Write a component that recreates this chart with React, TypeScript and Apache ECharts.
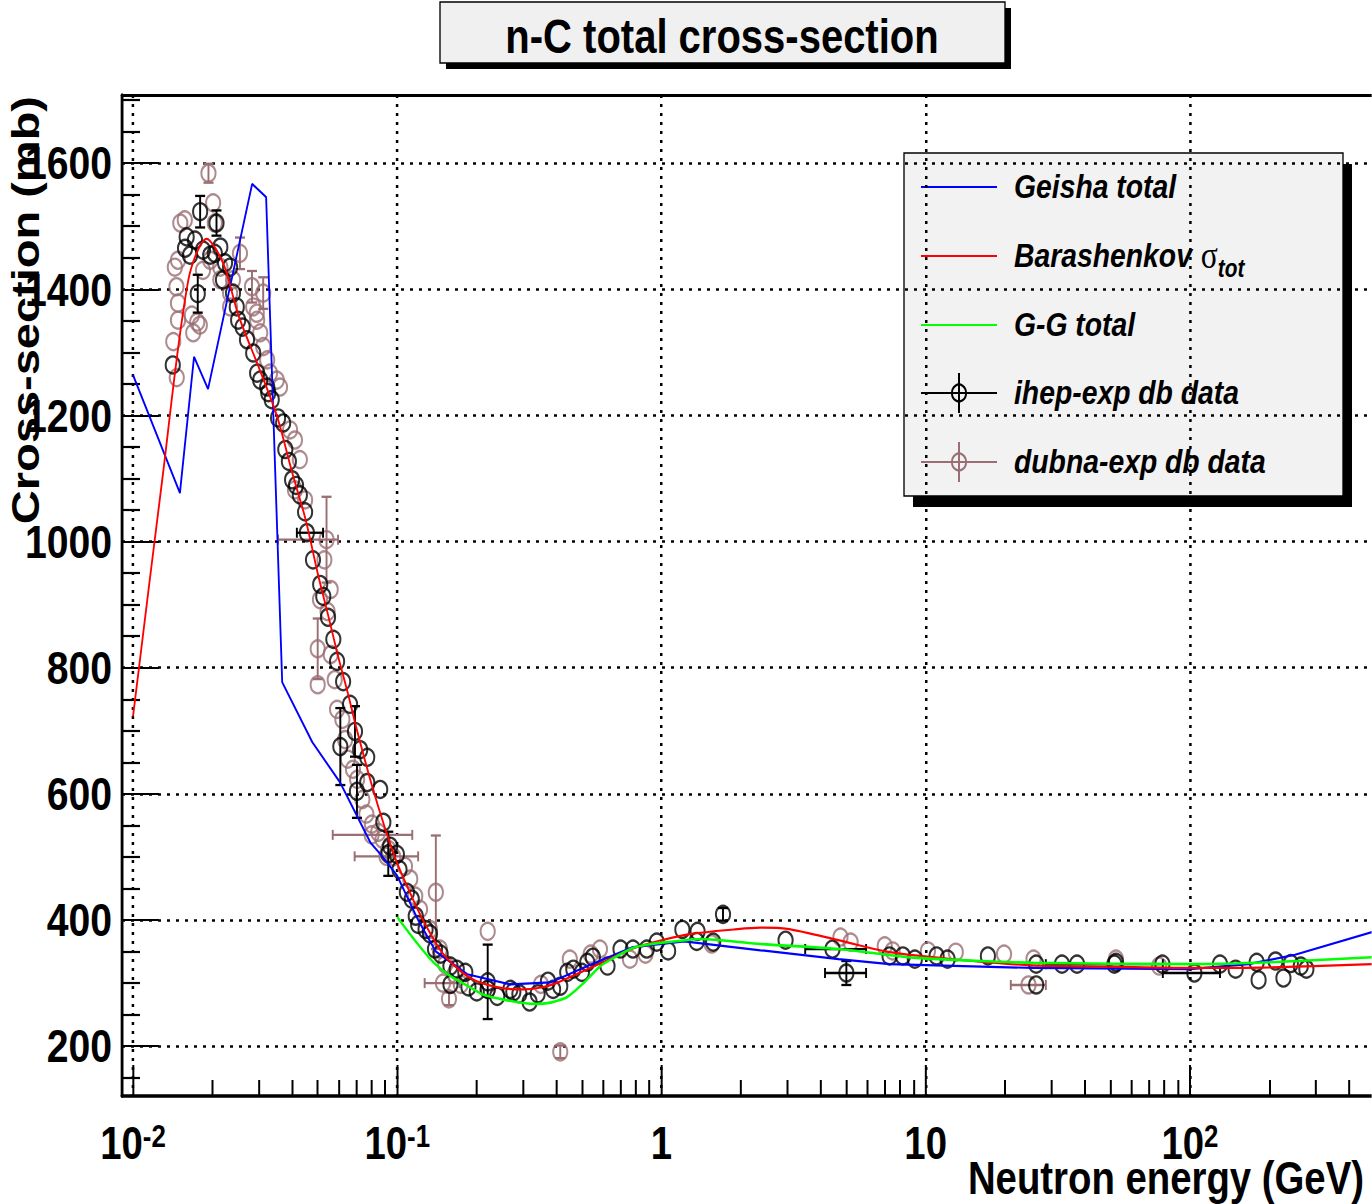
import React, { useEffect, useRef } from 'react';
import * as echarts from 'echarts';

const FONT = "'Liberation Sans', Arial, sans-serif";

// The reference is horizontally compressed relative to its font heights; draw wider and squeeze.
const K = 1.2;
const W = 1372;
const H = 1204;

const X_MIN = 0.009085;
const X_MAX = 489;
const Y_MIN = 121;
const Y_MAX = 1708;

const xMajorTicks = [0.01, 0.1, 1, 10, 100];
const xMinorMantissas = [2, 3, 4, 5, 6, 7, 8, 9];
const yMajorTicks = [200, 400, 600, 800, 1000, 1200, 1400, 1600];
const yMinorTicks = [150, 250, 300, 350, 450, 500, 550, 650, 700, 750, 850, 900, 950, 1050, 1100, 1150, 1250, 1300, 1350, 1450, 1500, 1550, 1650, 1700];

// Geisha total (blue)
const geishaEnergy = [0.01, 0.01505, 0.01702, 0.01923, 0.02824, 0.0319, 0.0367, 0.0477, 0.0608, 0.0791, 0.0877, 0.1, 0.12, 0.14, 0.184, 0.268, 0.38, 0.525, 0.78, 1.22, 2.37, 4.68, 7.3, 25.6, 100, 167, 250, 489];
const geishaSigma = [1264, 1077, 1293, 1242, 1567, 1546, 777, 682, 618, 523, 501, 470, 400, 350, 314, 298, 301, 327, 357, 366, 352, 338, 330, 324, 322, 330, 345, 381];

// Barashenkov sigma_tot (red)
const barEnergy = [0.01, 0.0129, 0.0162, 0.019, 0.022, 0.025, 0.03, 0.035, 0.04, 0.045, 0.05, 0.055, 0.06, 0.065, 0.07, 0.08, 0.09, 0.1, 0.11, 0.12, 0.135, 0.15, 0.175, 0.2, 0.25, 0.3, 0.35, 0.4, 0.5, 0.6, 0.78, 1.0, 1.3, 1.875, 2.37, 3, 4.68, 7.3, 15, 25.6, 50, 100, 200, 489];
const barSigma = [723, 1098, 1415, 1480, 1440, 1360, 1275, 1200, 1110, 1035, 950, 880, 815, 760, 705, 615, 545, 490, 450, 415, 375, 345, 318, 303, 292, 290, 293, 300, 318, 333, 355, 368, 378, 385, 388, 386, 368, 349, 335, 328, 326, 324, 325, 330];

// G-G total (green)
const ggEnergy = [0.1, 0.1023, 0.118, 0.137, 0.159, 0.184, 0.211, 0.245, 0.283, 0.327, 0.38, 0.44, 0.51, 0.587, 0.68, 0.783, 0.916, 1.05, 1.41, 2.37, 4.68, 9.25, 25.6, 100, 200, 489];
const ggSigma = [405, 399, 365, 333, 311, 296, 282, 275, 270, 267, 269, 278, 301, 327, 343, 356, 362, 365, 370, 362, 354, 340, 332, 330, 333, 341];

// ihep-exp db data (black)
const ihepEnergy = [0.01414, 0.01574, 0.01596, 0.01644, 0.01716, 0.01758, 0.01795, 0.0184, 0.0196, 0.0204, 0.0207, 0.0214, 0.0219, 0.0223, 0.0233, 0.0239, 0.0247, 0.025, 0.026, 0.027, 0.0285, 0.0295, 0.0303, 0.0322, 0.0325, 0.0335, 0.0354, 0.037, 0.0377, 0.0389, 0.04, 0.0414, 0.0428, 0.0448, 0.0455, 0.048, 0.0511, 0.0525, 0.0547, 0.0573, 0.0592, 0.0624, 0.0663, 0.0692, 0.0609, 0.0724, 0.077, 0.0704, 0.077, 0.0862, 0.0886, 0.094, 0.0925, 0.0997, 0.102, 0.1088, 0.1135, 0.1175, 0.12, 0.128, 0.133, 0.139, 0.146, 0.159, 0.159, 0.168, 0.181, 0.186, 0.2, 0.22, 0.22, 0.239, 0.268, 0.275, 0.29, 0.317, 0.34, 0.372, 0.389, 0.414, 0.44, 0.464, 0.5, 0.524, 0.55, 0.625, 0.7, 0.78, 0.88, 0.96, 1.06, 1.2, 1.37, 1.36, 1.57, 1.71, 2.95, 4.44, 5.01, 7.3, 8.2, 9.1, 11.0, 12.1, 17.2, 26.2, 26.2, 32.8, 37.4, 51.8, 52.5, 78.7, 104, 130, 149, 179, 182, 211, 226, 241, 263, 276];
const ihepSigma = [1280, 1465, 1483, 1454, 1478, 1393, 1523, 1462, 1454, 1457, 1505, 1467, 1415, 1442, 1435, 1394, 1372, 1351, 1340, 1320, 1299, 1267, 1256, 1245, 1236, 1225, 1196, 1188, 1146, 1127, 1098, 1089, 1074, 1047, 1014, 971, 932, 913, 880, 845, 810, 778, 742, 699, 675, 670, 658, 604, 618, 607, 555, 517, 505, 504, 480, 444, 433, 406, 393, 385, 378, 354, 346, 327, 298, 322, 317, 294, 286, 302, 290, 279, 290, 286, 283, 270, 283, 303, 290, 295, 317, 322, 317, 333, 341, 327, 354, 354, 354, 365, 351, 385, 382, 366, 365, 409, 368, 354, 316, 343, 343, 338, 343, 338, 343, 330, 297, 330, 330, 330, 333, 330, 316, 330, 322, 333, 305, 335, 308, 331, 327, 322];
// [energy, sigma, sigma error, energy low, energy high]
const ihepErrors = [
  [0.01758, 1393, 30, 0, 0],
  [0.01795, 1523, 25, 0, 0],
  [0.0207, 1505, 20, 0, 0],
  [0.0455, 1014, 0, 0.0417, 0.0524],
  [0.0692, 699, 40, 0, 0],
  [0.0609, 675, 61, 0, 0],
  [0.0704, 604, 42, 0, 0],
  [0.0925, 505, 35, 0, 0],
  [0.22, 302, 59, 0, 0],
  [1.71, 409, 10, 0, 0],
  [4.44, 354, 0, 3.5, 5.95],
  [5.01, 316, 19, 4.16, 5.95],
  [51.8, 330, 0, 28.5, 79],
  [104, 316, 0, 79, 130],
];

// dubna-exp db data (brown)
const dubnaEnergy = [0.0142, 0.0144, 0.0146, 0.01464, 0.0148, 0.0148, 0.0148, 0.0151, 0.0157, 0.0167, 0.0169, 0.0175, 0.0179, 0.0184, 0.0193, 0.0196, 0.0201, 0.0204, 0.0214, 0.0214, 0.0233, 0.0233, 0.0239, 0.0254, 0.0282, 0.0285, 0.0294, 0.0295, 0.0303, 0.0311, 0.0311, 0.0322, 0.033, 0.035, 0.036, 0.0393, 0.041, 0.041, 0.0428, 0.0448, 0.054, 0.053, 0.051, 0.0545, 0.056, 0.05, 0.05, 0.056, 0.058, 0.0592, 0.062, 0.0635, 0.065, 0.068, 0.0705, 0.0738, 0.0764, 0.08, 0.0802, 0.0847, 0.088, 0.091, 0.0925, 0.0966, 0.107, 0.112, 0.117, 0.122, 0.133, 0.14, 0.145, 0.149, 0.152, 0.157, 0.165, 0.174, 0.22, 0.22, 0.35, 0.414, 0.45, 0.54, 0.585, 0.76, 0.87, 1.55, 4.76, 5.2, 7.0, 7.5, 10.2, 13.0, 19.8, 24.5, 25.6, 52.5, 76.5];
const dubnaSigma = [1317, 1435, 1404, 1260, 1351, 1378, 1446, 1505, 1510, 1359, 1331, 1348, 1343, 1430, 1584, 1446, 1537, 1505, 1415, 1435, 1372, 1394, 1415, 1457, 1404, 1372, 1362, 1351, 1331, 1394, 1309, 1288, 1267, 1256, 1245, 1177, 1161, 1082, 1130, 1066, 1003, 971, 908, 889, 924, 830, 773, 821, 781, 734, 718, 686, 655, 639, 623, 591, 568, 535, 552, 539, 528, 501, 512, 500, 485, 465, 438, 417, 385, 444, 354, 300, 330, 275, 314, 298, 382, 290, 298, 191, 338, 346, 354, 338, 346, 362, 373, 365, 359, 351, 351, 349, 346, 297, 338, 338, 327];
const dubnaErrors = [
  [0.0193, 1584, 15, 0, 0],
  [0.0254, 1457, 25, 0, 0],
  [0.0282, 1404, 25, 0, 0],
  [0.0311, 1394, 25, 0, 0],
  [0.054, 1003, 68, 0.0354, 0.0597],
  [0.05, 830, 48, 0, 0],
  [0.08, 535, 0, 0.057, 0.114],
  [0.091, 501, 0, 0.069, 0.12],
  [0.14, 444, 90, 0, 0],
  [0.149, 300, 0, 0.127, 0.172],
  [0.157, 275, 10, 0, 0],
  [0.414, 191, 10, 0, 0],
  [24.5, 297, 0, 21, 28.5],
];

const BLUE = '#0000ff';
const RED = '#ff0000';
const GREEN = '#00ff00';
const BLACK = '#000000';
const BROWN = '#9a6e73';

const zip = (a: number[], b: number[]) => a.map((v, i) => [v, b[i]]);

const xMinorTicks: number[] = [];
xMajorTicks.forEach((d) => {
  xMinorMantissas.forEach((m) => {
    const v = Number((m * d).toPrecision(6));
    if (v < X_MAX) xMinorTicks.push(v);
  });
});

function errorRenderer(color: string) {
  return (params: any, api: any) => {
    const e = api.value(0);
    const s = api.value(1);
    const ds = api.value(2);
    const lo = api.value(3);
    const hi = api.value(4);
    const style = { stroke: color, lineWidth: 2.3, fill: 'none' };
    const capX = 5 * K;
    const capY = 5;
    const children: any[] = [];
    if (ds > 0) {
      const t = api.coord([e, s + ds]);
      const b = api.coord([e, s - ds]);
      children.push({ type: 'line', shape: { x1: t[0], y1: t[1], x2: b[0], y2: b[1] }, style });
      children.push({ type: 'line', shape: { x1: t[0] - capX, y1: t[1], x2: t[0] + capX, y2: t[1] }, style });
      children.push({ type: 'line', shape: { x1: b[0] - capX, y1: b[1], x2: b[0] + capX, y2: b[1] }, style });
    }
    if (lo > 0 && hi > 0) {
      const l = api.coord([lo, s]);
      const r = api.coord([hi, s]);
      children.push({ type: 'line', shape: { x1: l[0], y1: l[1], x2: r[0], y2: r[1] }, style });
      children.push({ type: 'line', shape: { x1: l[0], y1: l[1] - capY, x2: l[0], y2: l[1] + capY }, style });
      children.push({ type: 'line', shape: { x1: r[0], y1: r[1] - capY, x2: r[0], y2: r[1] + capY }, style });
    }
    return { type: 'group', children };
  };
}

function xLabel(v: number) {
  const p = Math.round(Math.log10(v));
  if (p === 0) return '{b|1}';
  if (p === 1) return '{b|10}';
  return '{b|10}{s|' + p + '}';
}

const legendItems = [
  { name: 'Geisha total', color: BLUE, kind: 'line', sub: false },
  { name: 'Barashenkov', color: RED, kind: 'line', sub: true },
  { name: 'G-G total', color: GREEN, kind: 'line', sub: false },
  { name: 'ihep-exp db data', color: BLACK, kind: 'marker', sub: false },
  { name: 'dubna-exp db data', color: BROWN, kind: 'marker', sub: false },
];

function buildLegend() {
  const lx = 904 * K, ly = 153, lw = 439 * K, lh = 343;
  const rows = [187, 256, 325, 393, 462];
  const children: any[] = [
    { type: 'rect', shape: { x: lx + 9 * K, y: ly + 11, width: lw, height: lh }, style: { fill: '#000' } },
    { type: 'rect', shape: { x: lx, y: ly, width: lw, height: lh }, style: { fill: '#f2f2f2', stroke: '#000', lineWidth: 1.6 } },
  ];
  legendItems.forEach((it, i) => {
    const y = rows[i];
    children.push({ type: 'line', shape: { x1: 921 * K, y1: y, x2: 997 * K, y2: y }, style: { stroke: it.color, lineWidth: 2 } });
    if (it.kind === 'marker') {
      children.push({ type: 'line', shape: { x1: 959 * K, y1: y - 20, x2: 959 * K, y2: y + 20 }, style: { stroke: it.color, lineWidth: 2.4 } });
      children.push({ type: 'circle', shape: { cx: 959 * K, cy: y, r: 8.5 }, style: { fill: 'none', stroke: it.color, lineWidth: 2.3 } });
    }
    const text = it.sub ? '{n|' + it.name + '}{sp| }{g|σ}{t|tot}' : '{n|' + it.name + '}';
    children.push({
      type: 'text',
      x: 1014 * K,
      y,
      style: {
        text,
        verticalAlign: 'middle',
        align: 'left',
        rich: {
          n: { fontFamily: FONT, fontSize: 34, fontWeight: 'bold', fontStyle: 'italic', fill: '#000', lineHeight: 50 },
          sp: { fontFamily: FONT, fontSize: 38, fill: '#000', lineHeight: 50 },
          g: { fontFamily: "'Liberation Serif', serif", fontSize: 38, fill: '#000', lineHeight: 50 },
          t: { fontFamily: FONT, fontSize: 25, fontWeight: 'bold', fontStyle: 'italic', fill: '#000', lineHeight: 20, verticalAlign: 'bottom' },
        },
      },
    });
  });
  return { type: 'group', children };
}

function buildTitle() {
  return {
    type: 'group',
    children: [
      { type: 'rect', shape: { x: 446 * K, y: 8, width: 565 * K, height: 61 }, style: { fill: '#000' } },
      { type: 'rect', shape: { x: 440 * K, y: 2, width: 565 * K, height: 61 }, style: { fill: '#f0f0f0', stroke: '#000', lineWidth: 1.6 } },
      {
        type: 'text', x: 722 * K, y: 36,
        style: { text: 'n-C total cross-section', align: 'center', verticalAlign: 'middle', fontFamily: FONT, fontSize: 48, fontWeight: 'bold', fill: '#000' },
      },
    ],
  };
}

function buildYTitle() {
  return {
    type: 'text', x: 25 * K, y: 96, rotation: Math.PI / 2,
    style: { text: 'Cross-section (mb)', align: 'right', verticalAlign: 'middle', fontFamily: FONT, fontSize: 47, fontWeight: 'bold', fill: '#000' },
  };
}

function buildXTitle() {
  return {
    type: 'text', x: 1364 * K, y: 1178,
    style: { text: 'Neutron energy (GeV)', align: 'right', verticalAlign: 'middle', fontFamily: FONT, fontSize: 46, fontWeight: 'bold', fill: '#000', lineHeight: 34 },
  };
}

export default function App() {
  const ref = useRef<HTMLDivElement>(null);
  useEffect(() => {
    if (!ref.current) return;
    const chart = echarts.init(ref.current, undefined, { renderer: 'svg', width: W * K, height: H });
    const option: any = {
      animation: false,
      backgroundColor: '#fff',
      grid: { left: 122 * K, top: 95, right: 0, bottom: 108, containLabel: false, outerBoundsMode: 'none' },
      xAxis: [
        {
          type: 'log', logBase: 10, min: X_MIN, max: X_MAX, position: 'bottom',
          axisLine: { show: true, lineStyle: { color: '#000', width: 3.5 } },
          axisTick: { show: true, inside: true, length: 31, customValues: xMajorTicks, lineStyle: { color: '#000', width: 2.4 } },
          axisLabel: {
            customValues: xMajorTicks, formatter: xLabel, margin: 25, color: '#000',
            rich: {
              b: { fontFamily: FONT, fontSize: 46, fontWeight: 'bold', color: '#000', lineHeight: 44 },
              s: { fontFamily: FONT, fontSize: 31, fontWeight: 'bold', color: '#000', lineHeight: 20, verticalAlign: 'top' },
            },
          },
          splitLine: { show: true, lineStyle: { type: [3, 6], color: '#000', width: 3 } },
          minorTick: { show: false },
        },
        {
          type: 'log', logBase: 10, min: X_MIN, max: X_MAX, position: 'bottom',
          axisLine: { show: false },
          axisTick: { show: true, inside: true, length: 16, customValues: xMinorTicks, lineStyle: { color: '#000', width: 2.4 } },
          axisLabel: { show: false },
          splitLine: { show: false },
        },
        {
          type: 'log', logBase: 10, min: X_MIN, max: X_MAX, position: 'top',
          axisLine: { show: true, lineStyle: { color: '#000', width: 3 } },
          axisTick: { show: false }, axisLabel: { show: false }, splitLine: { show: false },
        },
      ],
      yAxis: [
        {
          type: 'value', min: Y_MIN, max: Y_MAX, position: 'left',
          axisLine: { show: true, lineStyle: { color: '#000', width: 3.4 } },
          axisTick: { show: true, inside: true, length: 37 * K, customValues: yMajorTicks, lineStyle: { color: '#000', width: 2.2 } },
          axisLabel: {
            customValues: yMajorTicks, margin: 10 * K, color: '#000', fontFamily: FONT, fontSize: 47, fontWeight: 'bold',
            formatter: (v: number) => String(v),
          },
          splitLine: { show: true, lineStyle: { type: [3.6, 7.2], color: '#000', width: 2.5 } },
        },
        {
          type: 'value', min: Y_MIN, max: Y_MAX, position: 'left',
          axisLine: { show: false },
          axisTick: { show: true, inside: true, length: 18 * K, customValues: yMinorTicks, lineStyle: { color: '#000', width: 2.2 } },
          axisLabel: { show: false }, splitLine: { show: false },
        },
      ],
      series: [
        {
          type: 'custom', name: 'dubna-err', renderItem: errorRenderer(BROWN), data: dubnaErrors,
          encode: { x: 0, y: 1 }, xAxisIndex: 0, yAxisIndex: 0, silent: true, z: 2,
        },
        {
          type: 'scatter', name: 'dubna-exp db data', data: zip(dubnaEnergy, dubnaSigma), symbol: 'circle', symbolSize: 17,
          itemStyle: { color: 'rgba(0,0,0,0)', borderColor: BROWN, borderWidth: 2.4 }, silent: true, z: 3,
        },
        {
          type: 'custom', name: 'ihep-err', renderItem: errorRenderer(BLACK), data: ihepErrors,
          encode: { x: 0, y: 1 }, xAxisIndex: 0, yAxisIndex: 0, silent: true, z: 4,
        },
        {
          type: 'scatter', name: 'ihep-exp db data', data: zip(ihepEnergy, ihepSigma), symbol: 'circle', symbolSize: 17,
          itemStyle: { color: 'rgba(0,0,0,0)', borderColor: BLACK, borderWidth: 2.4 }, silent: true, z: 5,
        },
        {
          type: 'line', name: 'Geisha total', data: zip(geishaEnergy, geishaSigma), symbol: 'none',
          lineStyle: { color: BLUE, width: 2.2 }, silent: true, z: 6,
        },
        {
          type: 'line', name: 'Barashenkov', data: zip(barEnergy, barSigma), symbol: 'none', smooth: 0.3,
          lineStyle: { color: RED, width: 2.2 }, silent: true, z: 7,
        },
        {
          type: 'line', name: 'G-G total', data: zip(ggEnergy, ggSigma), symbol: 'none', smooth: 0.2,
          lineStyle: { color: GREEN, width: 2.6 }, silent: true, z: 8,
        },
      ],
      graphic: [buildTitle(), buildLegend(), buildYTitle(), buildXTitle()],
    };
    chart.setOption(option);
    return () => chart.dispose();
  }, []);
  return (
    <div style={{ position: 'absolute', left: 0, top: 0, width: W, height: H, overflow: 'hidden', background: '#fff' }}>
      <div ref={ref} style={{ width: W * K, height: H, transform: `scaleX(${1 / K})`, transformOrigin: '0 0' }} />
    </div>
  );
}
